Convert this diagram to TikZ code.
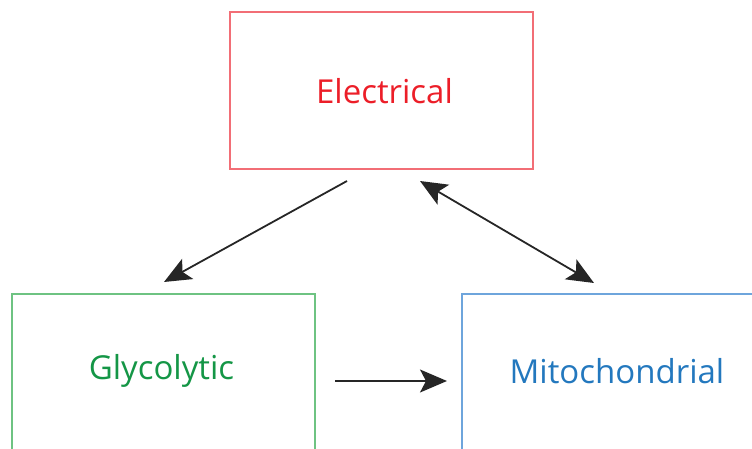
\documentclass[tikz,border=0pt]{standalone}
\usepackage{fontspec}
\setmainfont{Open Sans}
\usetikzlibrary{arrows.meta}
\definecolor{elred}{RGB}{236,30,40}
\definecolor{elredb}{RGB}{242,110,118}
\definecolor{glgreen}{RGB}{20,150,70}
\definecolor{glgreenb}{RGB}{110,195,130}
\definecolor{mtblue}{RGB}{35,120,190}
\definecolor{mtblueb}{RGB}{110,165,220}
\tikzset{
  boxnode/.style={draw, line width=1.3pt, minimum width=303pt, inner sep=0pt},
  lbl/.style={font=\fontsize{33}{36}\selectfont, inner sep=0pt},
  conn/.style={line width=1.8pt, black!85, -{Stealth[length=27pt,width=23pt,inset=6pt]}},
  conn2/.style={line width=1.8pt, black!85, {Stealth[length=27pt,width=23pt,inset=6pt]}-{Stealth[length=27pt,width=23pt,inset=6pt]}}
}
\begin{document}
\begin{tikzpicture}[x=1pt,y=-1pt]
\useasboundingbox (0,0) rectangle (752,449);
\clip (0,0) rectangle (752,449);
\node[boxnode, draw=elredb, minimum height=157pt] (elbox) at (381.5,90.5) {};
\node[boxnode, draw=glgreenb, minimum height=170pt] (glbox) at (163.5,379) {};
\node[boxnode, draw=mtblueb, minimum height=170pt] (mtbox) at (613.5,379) {};
\node[lbl, text=elred] (el) at (384.5,91) {Electrical};
\node[lbl, text=glgreen] (gl) at (161.5,371) {Glycolytic};
\node[lbl, text=mtblue] (mt) at (617,371) {Mitochondrial};
\coordinate (a1s) at (347,181);
\coordinate (a1e) at (164,282);
\coordinate (a2s) at (420,181);
\coordinate (a2e) at (594,283);
\coordinate (a3s) at (335,381);
\coordinate (a3e) at (447,381);
\draw[conn] (a1s) -- (a1e);
\draw[conn2] (a2s) -- (a2e);
\draw[conn] (a3s) -- (a3e);
\end{tikzpicture}
\end{document}
